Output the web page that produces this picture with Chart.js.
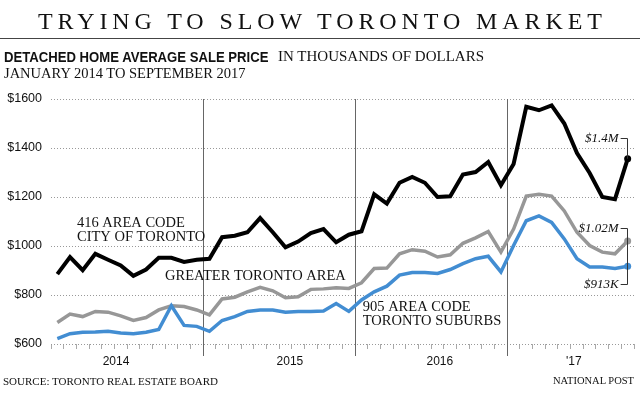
<!DOCTYPE html>
<html>
<head>
<meta charset="utf-8">
<script src="https://cdn.jsdelivr.net/npm/chart.js@4.4.0/dist/chart.umd.min.js"></script>
<style>
  html, body { margin: 0; padding: 0; background: #fff; }
  #wrap { position: relative; width: 640px; height: 399px; overflow: hidden; }
  #chart { position: absolute; left: 0; top: 0; }
  .t { position: absolute; white-space: nowrap; color: #111; line-height: 1; }
  #title { left: 38px; top: 8px; font: 24px "Liberation Serif", serif; letter-spacing: 4.9px; }
  #rule { position: absolute; left: 0; top: 38px; width: 640px; height: 1px; background: #444; }
  #sub1 { left: 4px; top: 48px; font: bold 15px "Liberation Sans", sans-serif; transform: scaleX(0.875); transform-origin: left top; }
  #sub1b { left: 278px; top: 48px; font: 15px "Liberation Serif", serif; }
  #sub2 { left: 4px; top: 65px; font: 14.5px "Liberation Serif", serif; }
  #source { left: 3px; top: 375px; font: 11px "Liberation Serif", serif; }
  #brand { right: 6px; top: 375px; font: 10.5px "Liberation Serif", serif; }
</style>
</head>
<body>
<div id="wrap">
  <canvas id="chart" width="640" height="399"></canvas>
  <div class="t" id="title">TRYING TO SLOW TORONTO MARKET</div>
  <div id="rule"></div>
  <div class="t" id="sub1">DETACHED HOME AVERAGE SALE PRICE</div>
  <div class="t" id="sub1b">IN THOUSANDS OF DOLLARS</div>
  <div class="t" id="sub2">JANUARY 2014 TO SEPTEMBER 2017</div>
  <div class="t" id="source">SOURCE: TORONTO REAL ESTATE BOARD</div>
  <div class="t" id="brand">NATIONAL POST</div>
</div>
<script>
// monthly averages, thousands of dollars
const monthNames = ['Jan','Feb','Mar','Apr','May','Jun','Jul','Aug','Sep','Oct','Nov','Dec'];
const years = [2014, 2015, 2016, 2017];

const city416 = [885, 955, 901, 968, 944, 921, 878, 904, 952, 952, 935, 944,
                 948, 1036, 1042, 1056, 1114, 1056, 995, 1018, 1053, 1069, 1015, 1046,
                 1060, 1211, 1173, 1258, 1282, 1258, 1200, 1203, 1292, 1302, 1343, 1248,
                 1335, 1568, 1554, 1574, 1500, 1379, 1298, 1200, 1191, 1356];
const gta = [688, 722, 712, 733, 730, 715, 696, 708, 739, 756, 753, 739,
             719, 784, 791, 813, 831, 817, 789, 793, 823, 825, 830, 827,
             850, 908, 910, 968, 985, 979, 955, 964, 1011, 1033, 1059, 975,
             1069, 1204, 1211, 1204, 1143, 1056, 1002, 975, 968, 1020];
const suburbs905 = [622, 642, 648, 649, 652, 645, 642, 648, 659, 756, 676, 672,
                    652, 696, 712, 733, 739, 739, 730, 733, 733, 735, 765, 733,
                    780, 813, 836, 881, 892, 892, 888, 904, 928, 948, 958, 894,
                    1002, 1103, 1123, 1096, 1029, 948, 914, 914, 908, 917];

const yearLabels = ['2014', '2015', '2016', "'17"];
const yearLabelPos = [4.63, 18.35, 30.18, 40.75];
const yearBreaks = [11.5, 23.5, 35.5];
const endLabels = ['$1.4M', '$1.02M', '$913K'];

const months = [];
years.forEach(y => monthNames.forEach(m => months.push(m + ' ' + y)));
months.length = city416.length;

const last = city416.length - 1;
const monthEdges = [];
for (let i = 0; i <= city416.length; i++) monthEdges.push(i - 0.5);

// where the annotation texts sit (x in months, y in thousands)
const seriesNotes = [
  { lines: ['416 AREA CODE', 'CITY OF TORONTO'], x: 1.55, y: 1076 },
  { lines: ['GREATER TORONTO AREA'], x: 8.5, y: 860 },
  { lines: ['905 AREA CODE', 'TORONTO SUBURBS'], x: 24.1, y: 733 }
];
const endNoteY = [1441, 1075, 846];

const toPoints = arr => arr.map((v, i) => ({ x: i, y: v }));
const endDot = ctx => ctx.dataIndex === last ? 3.5 : 0;

const notesPlugin = {
  id: 'notes',
  beforeDatasetsDraw(chart) {
    const { ctx, chartArea, scales } = chart;
    ctx.save();
    ctx.strokeStyle = '#666';
    ctx.lineWidth = 1;
    yearBreaks.forEach(b => {
      const px = Math.round(scales.x.getPixelForValue(b)) + 0.5;
      ctx.beginPath();
      ctx.moveTo(px, chartArea.top);
      ctx.lineTo(px, chartArea.bottom + 12);
      ctx.stroke();
    });
    ctx.restore();
  },
  afterDatasetsDraw(chart) {
    const { ctx, scales } = chart;
    ctx.save();
    ctx.fillStyle = '#111';
    ctx.font = '14.5px "Liberation Serif", serif';
    ctx.textAlign = 'left';
    ctx.textBaseline = 'alphabetic';
    seriesNotes.forEach(n => {
      const px = scales.x.getPixelForValue(n.x);
      const py = scales.y.getPixelForValue(n.y);
      n.lines.forEach((l, k) => ctx.fillText(l, px, py + k * 13.5));
    });

    ctx.font = 'italic 13px "Liberation Serif", serif';
    ctx.textAlign = 'right';
    ctx.textBaseline = 'middle';
    ctx.strokeStyle = '#333';
    ctx.lineWidth = 1;
    chart.data.datasets.forEach((ds, i) => {
      const pt = chart.getDatasetMeta(i).data[last];
      const ly = Math.round(scales.y.getPixelForValue(endNoteY[i])) + 0.5;
      const vx = Math.round(pt.x) - 0.5;
      ctx.fillText(endLabels[i], pt.x - 9, ly);
      ctx.beginPath();
      ctx.moveTo(pt.x - 7, ly);
      ctx.lineTo(vx, ly);
      ctx.lineTo(vx, pt.y);
      ctx.stroke();
    });
    ctx.restore();
  }
};

new Chart(document.getElementById('chart'), {
  type: 'line',
  data: {
    labels: months,
    datasets: [
      { label: '416 area code, City of Toronto', data: toPoints(city416),
        borderColor: '#000', backgroundColor: '#000', borderWidth: 4,
        pointRadius: endDot, pointBorderWidth: 0, tension: 0 },
      { label: '905 area code, Toronto suburbs', data: toPoints(suburbs905),
        borderColor: '#428dd2', backgroundColor: '#428dd2', borderWidth: 3.5,
        pointRadius: endDot, pointBorderWidth: 0, tension: 0 },
      { label: 'Greater Toronto Area', data: toPoints(gta),
        borderColor: '#979797', backgroundColor: '#979797', borderWidth: 3.5,
        pointRadius: endDot, pointBorderWidth: 0, tension: 0 }
    ]
  },
  options: {
    responsive: false,
    animation: false,
    devicePixelRatio: 1,
    layout: { padding: { top: 99, right: 6, bottom: 25, left: 0 } },
    plugins: { legend: { display: false }, tooltip: { enabled: false } },
    scales: {
      x: {
        type: 'linear', position: 'bottom', weight: 0,
        min: -0.5, max: last + 0.5,
        afterBuildTicks: s => { s.ticks = monthEdges.map(v => ({ value: v })); },
        afterFit: s => { s.height = 8; },
        ticks: { display: false },
        grid: { drawOnChartArea: false, drawTicks: true, tickLength: 5, tickColor: '#aaa', tickWidth: 1 },
        border: { display: false }
      },
      x2: {
        type: 'linear', position: 'bottom', weight: 1,
        min: -0.5, max: last + 0.5,
        afterBuildTicks: s => { s.ticks = yearLabelPos.map(v => ({ value: v })); },
        afterFit: s => { s.height = 22; },
        ticks: {
          autoSkip: false, maxRotation: 0, padding: 2, color: '#111',
          font: { family: '"Liberation Sans", sans-serif', size: 12 },
          callback: (v, i) => yearLabels[i]
        },
        grid: { display: false, drawTicks: false },
        border: { display: false }
      },
      y: {
        min: 600, max: 1600,
        afterFit: s => { s.width = 51; },
        ticks: {
          stepSize: 200, padding: 9, color: '#111',
          font: { family: '"Liberation Sans", sans-serif', size: 12.5 },
          callback: v => '$' + v
        },
        grid: { color: '#999', lineWidth: 1, drawTicks: false },
        border: { display: false, dash: [1, 2] }
      }
    }
  },
  plugins: [notesPlugin]
});
</script>
</body>
</html>
